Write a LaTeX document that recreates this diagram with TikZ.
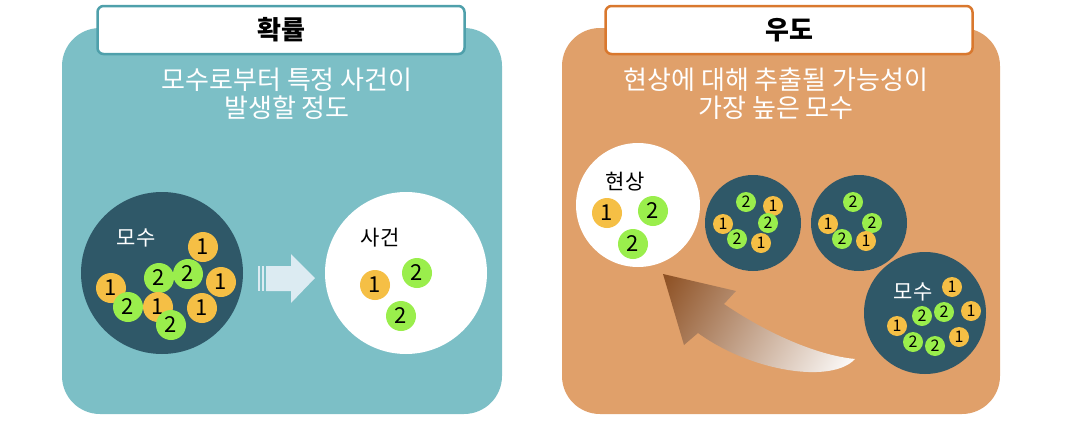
\documentclass[tikz,border=0pt]{standalone}
\usepackage{fontspec}
\setmainfont{Noto Sans CJK KR}
\definecolor{tealpanel}{HTML}{7CBFC6}
\definecolor{tealborder}{HTML}{4FA0AB}
\definecolor{orangepanel}{HTML}{E0A06A}
\definecolor{orangeborder}{HTML}{D9782E}
\definecolor{darkpop}{HTML}{2F5868}
\definecolor{ballorange}{HTML}{F5BF45}
\definecolor{ballgreen}{HTML}{9AEE4C}
\definecolor{arrlight}{HTML}{DCEBF2}
\definecolor{arrbrown}{HTML}{864515}
\pgfdeclarehorizontalshading{arrshade}{100bp}{color(0bp)=(arrbrown); color(12bp)=(arrbrown); color(82bp)=(white); color(100bp)=(white)}
\tikzset{
  titlebox/.style={draw, line width=2.5pt, fill=white, rounded corners=6pt, minimum width=367pt, minimum height=48pt, inner sep=0pt, font=\fontsize{26}{26}\selectfont\bfseries},
  subtitle/.style={align=center, text=white, font=\fontsize{26}{28}\selectfont, inner sep=0pt},
  popcircle/.style={circle, fill=darkpop, inner sep=0pt},
  whitecircle/.style={circle, fill=white, inner sep=0pt},
  poplabel/.style={text=white, font=\fontsize{21}{21}\selectfont, inner sep=0pt},
  evlabel/.style={text=black, font=\fontsize{21}{21}\selectfont, inner sep=0pt},
  bigO/.style={circle, fill=ballorange, minimum size=30pt, inner sep=0pt, font=\fontsize{22}{22}\selectfont},
  bigG/.style={circle, fill=ballgreen, minimum size=30pt, inner sep=0pt, font=\fontsize{22}{22}\selectfont},
  smO/.style={circle, fill=ballorange, minimum size=20pt, inner sep=0pt, font=\fontsize{16}{16}\selectfont},
  smG/.style={circle, fill=ballgreen, minimum size=20pt, inner sep=0pt, font=\fontsize{16}{16}\selectfont},
}
\begin{document}
\begin{tikzpicture}[x=1pt,y=-1pt]
\useasboundingbox (0,0) rectangle (1080,426);
% panels
\fill[tealpanel, rounded corners=38pt] (62,28) rectangle (502,414);
\fill[orangepanel, rounded corners=38pt] (562,28) rectangle (1000,414);
\node[titlebox, draw=tealborder] (t1) at (281,30) {확률};
\node[titlebox, draw=orangeborder] (t2) at (789,30) {우도};
\node[subtitle] (s1) at (287,94) {모수로부터 특정 사건이\\발생할 정도};
\node[subtitle] (s2) at (776,94) {현상에 대해 추출될 가능성이\\가장 높은 모수};
% left population
\node[popcircle, minimum size=162pt] (popL) at (162,273) {};
\node[poplabel] (popLlab) at (136,238) {모수};
\node[bigO] (a1) at (203,247) {1};
\node[bigG] (a2) at (188,274) {2};
\node[bigG] (a3) at (159,278) {2};
\node[bigO] (a4) at (221,282) {1};
\node[bigO] (a5) at (111,288) {1};
\node[bigG] (a6) at (128,307) {2};
\node[bigO] (a7) at (158,307) {1};
\node[bigO] (a8) at (202,308) {1};
\node[bigG] (a9) at (171,325) {2};
% block arrow
\fill[arrlight] (266,266) -- (291,266) -- (291,254) -- (315,278) -- (291,303) -- (291,291) -- (266,291) -- cycle;
\fill[arrlight] (258,266) rectangle (260,291);
\fill[arrlight] (262,266) rectangle (264,291);
% event circle
\node[whitecircle, minimum size=162pt] (ev) at (406,273) {};
\node[evlabel] (evlab) at (380,238) {사건};
\node[bigO] (e1) at (375,285) {1};
\node[bigG] (e2) at (417,273) {2};
\node[bigG] (e3) at (401,316) {2};
% phenomenon
\node[whitecircle, minimum size=124pt] (ph) at (638,205) {};
\node[evlabel] (phlab) at (625,182) {현상};
\node[bigO] (h1) at (607,213) {1};
\node[bigG] (h2) at (653,211) {2};
\node[bigG] (h3) at (633,244) {2};
% candidate populations
\node[popcircle, minimum size=96pt] (c1) at (753,223) {};
\node[smG] (c1a) at (746,202) {2};
\node[smO] (c1b) at (773,206) {1};
\node[smO] (c1c) at (723,224) {1};
\node[smG] (c1d) at (768,223) {2};
\node[smG] (c1e) at (737,239) {2};
\node[smO] (c1f) at (761,243) {1};
\node[popcircle, minimum size=96pt] (c2) at (859,223) {};
\node[smG] (c2a) at (853,202) {2};
\node[smO] (c2b) at (828,224) {1};
\node[smG] (c2c) at (872,223) {2};
\node[smG] (c2d) at (842,239) {2};
\node[smO] (c2e) at (866,241) {1};
\node[popcircle, minimum size=122pt] (c3) at (925,313) {};
\node[poplabel] (c3lab) at (913,292) {모수};
\node[smO] (c3a) at (952,287) {1};
\node[smG] (c3b) at (944,312) {2};
\node[smO] (c3c) at (971,311) {1};
\node[smG] (c3d) at (922,316) {2};
\node[smO] (c3e) at (897,326) {1};
\node[smO] (c3f) at (959,337) {1};
\node[smG] (c3g) at (913,342) {2};
\node[smG] (c3h) at (935,346) {2};
% curved gradient arrow
\shade[shading=arrshade, shading angle=-30]
  (663,274) -- (736,291) -- (724,304)
  .. controls (765,332) and (815,355) .. (855,359)
  .. controls (832,384) and (752,372) .. (698,333)
  -- (684,345) -- cycle;
\end{tikzpicture}
\end{document}
